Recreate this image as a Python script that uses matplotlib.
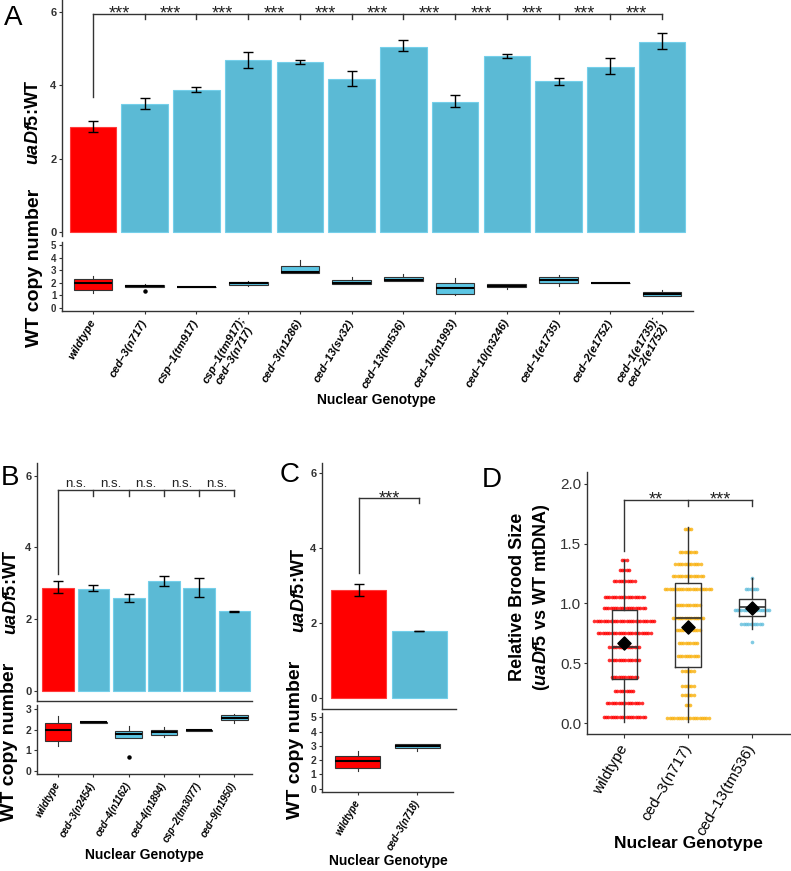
import numpy as np
import matplotlib
matplotlib.use("Agg")
import matplotlib.pyplot as plt

plt.rcParams["font.family"] = ["Liberation Sans", "DejaVu Sans"]
plt.rcParams["mathtext.fontset"] = "custom"
plt.rcParams["mathtext.rm"] = "Liberation Sans:bold"
plt.rcParams["mathtext.it"] = "Liberation Sans:italic:bold"
plt.rcParams["mathtext.bf"] = "Liberation Sans:bold"

RED = "#FF0000"
CYAN = "#5BBAD5"
CYAN_BOX = "#5CC6E4"
ORANGE = "#F9B10E"
D_CYAN = "#62BEDC"
AX_COL = "#333333"

# ---- Panel A: uaDf5:WT ratio (bars) and WT copy number (boxes)
a_genotypes = ["wildtype", "ced–3(n717)", "csp–1(tm917)",
               "csp–1(tm917);\nced–3(n717)", "ced–3(n1286)", "ced–13(sv32)",
               "ced–13(tm536)", "ced–10(n1993)", "ced–10(n3246)",
               "ced–1(e1735)", "ced–2(e1752)", "ced–1(e1735);\nced–2(e1752)"]
a_ratio = [2.87, 3.50, 3.88, 4.69, 4.64, 4.18, 5.06, 3.56, 4.79, 4.11, 4.51, 5.19]
a_err_lo = [2.72, 3.35, 3.81, 4.47, 4.59, 3.99, 4.93, 3.41, 4.74, 4.02, 4.30, 4.98]
a_err_hi = [3.04, 3.67, 3.96, 4.92, 4.69, 4.39, 5.24, 3.73, 4.85, 4.21, 4.74, 5.43]
a_q1 = [1.43, 1.70, 1.66, 1.83, 2.80, 1.90, 2.14, 1.09, 1.64, 1.96, 1.97, 0.95]
a_med = [1.96, 1.76, 1.67, 1.95, 2.87, 1.97, 2.22, 1.56, 1.75, 2.22, 1.98, 1.11]
a_q3 = [2.28, 1.82, 1.68, 2.04, 3.33, 2.22, 2.43, 1.96, 1.88, 2.43, 1.99, 1.30]
a_lo = [1.21, 1.70, 1.66, 1.75, 2.75, 1.90, 2.14, 1.03, 1.48, 1.75, 1.97, 0.95]
a_hi = [2.57, 1.90, 1.68, 2.10, 3.80, 2.45, 2.67, 2.35, 1.88, 2.62, 1.99, 1.43]
a_fliers = [[], [1.38], [], [], [], [], [], [], [], [], [], []]
a_sig = ["***"] * 11

# ---- Panel B
b_genotypes = ["wildtype", "ced–3(n2454)", "ced–4(n1162)", "ced–4(n1894)",
               "csp–2(tm3077)", "ced–9(n1950)"]
b_ratio = [2.87, 2.85, 2.58, 3.05, 2.87, 2.22]
b_err_lo = [2.72, 2.78, 2.48, 2.91, 2.63, 2.21]
b_err_hi = [3.05, 2.95, 2.70, 3.21, 3.14, 2.23]
b_q1 = [1.47, 2.35, 1.59, 1.76, 1.96, 2.48]
b_med = [1.97, 2.36, 1.81, 1.88, 1.97, 2.59]
b_q3 = [2.32, 2.37, 1.94, 2.00, 1.98, 2.70]
b_lo = [1.23, 2.35, 1.59, 1.63, 1.96, 2.31]
b_hi = [2.67, 2.37, 2.20, 2.15, 1.98, 2.75]
b_fliers = [[], [], [0.66], [], [], []]
b_sig = ["n.s."] * 5

# ---- Panel C
c_genotypes = ["wildtype", "ced–3(n718)"]
c_ratio = [2.87, 1.78]
c_err_lo = [2.72, 1.77]
c_err_hi = [3.04, 1.79]
c_q1 = [1.43, 2.83]
c_med = [1.96, 2.98]
c_q3 = [2.31, 3.13]
c_lo = [1.22, 2.66]
c_hi = [2.66, 3.13]
c_fliers = [[], []]
c_sig = ["***"]

# ---- Panel D: relative brood size, one row of dots per value
d_genotypes = ["wildtype", "ced–3(n717)", "ced–13(tm536)"]
d_levels_wt = [1.36, 1.28, 1.19, 1.055, 0.96, 0.855, 0.75, 0.64, 0.53, 0.39, 0.27, 0.17, 0.055]
d_counts_wt = [3, 5, 10, 18, 19, 27, 24, 14, 14, 12, 9, 16, 19]
d_levels_c3 = [1.62, 1.43, 1.33, 1.23, 1.12, 0.99, 0.88, 0.78, 0.67, 0.56, 0.44, 0.31, 0.24, 0.15, 0.04]
d_counts_c3 = [4, 8, 12, 14, 21, 11, 14, 11, 9, 10, 6, 6, 6, 3, 19]
d_levels_c13 = [1.21, 1.12, 0.944, 0.83, 0.675]
d_counts_c13 = [1, 6, 16, 10, 1]
d_q1 = [0.37, 0.47, 0.894]
d_med = [0.64, 0.88, 0.967]
d_q3 = [0.944, 1.167, 1.04]
d_lo = [0.01, 0.01, 0.79]
d_hi = [1.36, 1.64, 1.21]
d_mean = [0.667, 0.805, 0.96]
d_sig = ["**", "***"]

W, H = 791, 871
fig = plt.figure(figsize=(W / 100, H / 100), dpi=100)


def add_axes(x0, y0, x1, y1):
    return fig.add_axes([x0 / W, 1 - y1 / H, (x1 - x0) / W, (y1 - y0) / H])


def ftext(x, y, s, **kw):
    kw.setdefault("ha", "center")
    kw.setdefault("va", "center")
    fig.text(x / W, 1 - y / H, s, **kw)


def style_axes(ax, bottom=True, ysize=8):
    for side in ["top", "right"]:
        ax.spines[side].set_visible(False)
    ax.spines["bottom"].set_visible(bottom)
    for side in ["left", "bottom"]:
        ax.spines[side].set_color(AX_COL)
        ax.spines[side].set_linewidth(1.0)
    ax.tick_params(axis="y", length=2.5, width=0.8, color=AX_COL, pad=1.5,
                   labelsize=ysize, labelcolor=AX_COL)
    for t in ax.get_yticklabels():
        t.set_fontweight("bold")


def bar_panel(ax, ratio, lo, hi, xlim, ylim, bottom):
    x = np.arange(len(ratio))
    colors = [RED] + [CYAN] * (len(ratio) - 1)
    edges = ["#FF3B3B"] + ["#74CFEA"] * (len(ratio) - 1)
    ax.bar(x, ratio, width=0.9, color=colors, edgecolor=edges, linewidth=0.8)
    yerr = [np.array(ratio) - np.array(lo), np.array(hi) - np.array(ratio)]
    ax.errorbar(x, ratio, yerr=yerr, fmt="none", ecolor="black",
                elinewidth=1.0, capsize=3.5, capthick=1.0)
    ax.set_xlim(*xlim)
    ax.set_ylim(*ylim)
    ax.set_yticks([0, 2, 4, 6])
    ax.set_xticks([])
    style_axes(ax, bottom=bottom, ysize=8)


def box_panel(ax, q1, med, q3, lo, hi, fliers, labels, xlim, ylim, yticks,
              lsize, ysize):
    x = np.arange(len(q1))
    stats = [dict(q1=a, med=b, q3=c, whislo=d, whishi=e, fliers=f)
             for a, b, c, d, e, f in zip(q1, med, q3, lo, hi, fliers)]
    bp = ax.bxp(stats, positions=x, widths=0.75, patch_artist=True,
                showcaps=False,
                boxprops=dict(linewidth=0.8, edgecolor=AX_COL),
                medianprops=dict(color="black", linewidth=1.5),
                whiskerprops=dict(color=AX_COL, linewidth=0.8),
                flierprops=dict(marker="o", markersize=2.2,
                                markerfacecolor="black",
                                markeredgecolor="black"))
    for i, patch in enumerate(bp["boxes"]):
        patch.set_facecolor(RED if i == 0 else CYAN_BOX)
    ax.set_xlim(*xlim)
    ax.set_ylim(*ylim)
    ax.set_yticks(yticks)
    ax.set_xticks(x)
    ax.set_xticklabels(labels, rotation=60, ha="right", va="center",
                       rotation_mode="anchor", fontsize=lsize,
                       fontweight="bold", fontstyle="italic",
                       multialignment="center")
    ax.tick_params(axis="x", length=2.5, width=0.8, color=AX_COL, pad=4)
    style_axes(ax, ysize=ysize)


def bracket(ax, n, y, y_ref_leg, tick_drop, labels, fs, dy_text):
    kw = dict(color=AX_COL, linewidth=1.0, clip_on=False)
    ax.plot([0, 0], [y_ref_leg, y], **kw)
    ax.plot([0, n - 1], [y, y], **kw)
    for i in range(1, n):
        ax.plot([i, i], [y - tick_drop, y], **kw)
        ax.text(i - 0.5, y + dy_text, labels[i - 1], ha="center",
                va="baseline", fontsize=fs, color="#222222")


# ---- Panel A
axA = add_axes(62, 0, 693, 235.7)
bar_panel(axA, a_ratio, a_err_lo, a_err_hi, (-0.6, 11.6), (-0.1, 6.33), False)
bracket(axA, 12, 5.96, 3.69, 0.16, a_sig, 13, -0.14)
axA2 = add_axes(62, 242.4, 693, 311)
box_panel(axA2, a_q1, a_med, a_q3, a_lo, a_hi, a_fliers, a_genotypes,
          (-0.6, 11.6), (-0.24, 5.2), [0, 1, 2, 3, 4, 5], 8, 7)

# ---- Panel B
axB = add_axes(37, 463.3, 252, 700.7)
bar_panel(axB, b_ratio, b_err_lo, b_err_hi, (-0.6, 5.5), (-0.28, 6.35), True)
bracket(axB, 6, 5.6, 3.26, 0.15, b_sig, 9.5, 0.08)
axB2 = add_axes(37, 705, 252, 774)
box_panel(axB2, b_q1, b_med, b_q3, b_lo, b_hi, b_fliers, b_genotypes,
          (-0.6, 5.5), (-0.15, 3.2), [0, 1, 2, 3], 7, 7.5)

# ---- Panel C
axC = add_axes(322, 463.3, 456, 709.3)
bar_panel(axC, c_ratio, c_err_lo, c_err_hi, (-0.6, 1.6), (-0.31, 6.26), True)
bracket(axC, 2, 5.33, 3.32, 0.12, c_sig, 13, -0.14)
axC2 = add_axes(322, 713, 453, 791.7)
box_panel(axC2, c_q1, c_med, c_q3, c_lo, c_hi, c_fliers, c_genotypes,
          (-0.6, 1.6), (-0.21, 5.3), [0, 1, 2, 3, 4, 5], 7, 7.5)

# ---- Panel D
axD = add_axes(586.7, 471.7, 790, 734.3)
dot_step = 0.036
d_sets = [(d_levels_wt, d_counts_wt, RED),
          (d_levels_c3, d_counts_c3, ORANGE),
          (d_levels_c13, d_counts_c13, D_CYAN)]
for i, (levels, counts, col) in enumerate(d_sets):
    xs, ys = [], []
    for lv, n in zip(levels, counts):
        offs = (np.arange(n) - (n - 1) / 2) * dot_step
        xs.extend(i + offs)
        ys.extend([lv] * n)
    axD.scatter(xs, ys, s=7, color=col, alpha=0.8, linewidths=0, zorder=2)
d_stats = [dict(q1=a, med=b, q3=c, whislo=d, whishi=e, fliers=[])
           for a, b, c, d, e in zip(d_q1, d_med, d_q3, d_lo, d_hi)]
axD.bxp(d_stats, positions=[0, 1, 2], widths=0.4, showcaps=False,
        boxprops=dict(color=AX_COL, linewidth=1.0),
        medianprops=dict(color=AX_COL, linewidth=1.2),
        whiskerprops=dict(color=AX_COL, linewidth=1.0), zorder=3)
axD.scatter([0, 1, 2], d_mean, marker="D", s=45, color="black", zorder=4)
axD.set_xlim(-0.59, 2.6)
axD.set_ylim(-0.092, 2.1)
axD.set_yticks([0, 0.5, 1.0, 1.5, 2.0])
axD.set_yticklabels(["0.0", "0.5", "1.0", "1.5", "2.0"])
axD.set_xticks([0, 1, 2])
axD.set_xticklabels(d_genotypes, rotation=60, ha="right", va="center",
                    rotation_mode="anchor", fontsize=11)
style_axes(axD, ysize=11)
for t in axD.get_yticklabels():
    t.set_fontweight("normal")
axD.tick_params(axis="x", length=3, width=0.8, color=AX_COL, pad=5)
kw = dict(color=AX_COL, linewidth=1.0)
axD.plot([0, 0], [1.44, 1.86], **kw)
axD.plot([0, 2], [1.86, 1.86], **kw)
axD.plot([1, 1], [1.81, 1.86], **kw)
axD.plot([2, 2], [1.81, 1.86], **kw)
for i, s in enumerate(d_sig):
    axD.text(i + 0.5, 1.83, s, ha="center", va="baseline", fontsize=13,
             color="#222222")

# ---- Titles and panel letters
ftext(13.5, 18, "A", fontsize=20)
ftext(34, 122, r"$\mathit{uaDf5}$:WT", rotation=90, fontsize=13, fontweight="bold")
ftext(35, 268, "WT copy number", rotation=90, fontsize=14, fontweight="bold")
ftext(376, 400, "Nuclear Genotype", fontsize=10, fontweight="bold")

ftext(10, 478, "B", fontsize=20)
ftext(11, 592, r"$\mathit{uaDf5}$:WT", rotation=90, fontsize=13, fontweight="bold")
ftext(10, 742, "WT copy number", rotation=90, fontsize=14, fontweight="bold")
ftext(144, 855, "Nuclear Genotype", fontsize=10, fontweight="bold")

ftext(290, 475, "C", fontsize=20)
ftext(299, 590, r"$\mathit{uaDf5}$:WT", rotation=90, fontsize=13, fontweight="bold")
ftext(295, 740, "WT copy number", rotation=90, fontsize=14, fontweight="bold")
ftext(388, 861, "Nuclear Genotype", fontsize=10, fontweight="bold")

ftext(492, 480, "D", fontsize=20)
ftext(517, 597, "Relative Brood Size", rotation=90, fontsize=13, fontweight="bold")
ftext(541, 597, r"($\mathit{uaDf5}$ vs WT mtDNA)", rotation=90, fontsize=13,
      fontweight="bold")
ftext(688, 843, "Nuclear Genotype", fontsize=12.5, fontweight="bold")

fig.savefig("out.png", dpi=100)
